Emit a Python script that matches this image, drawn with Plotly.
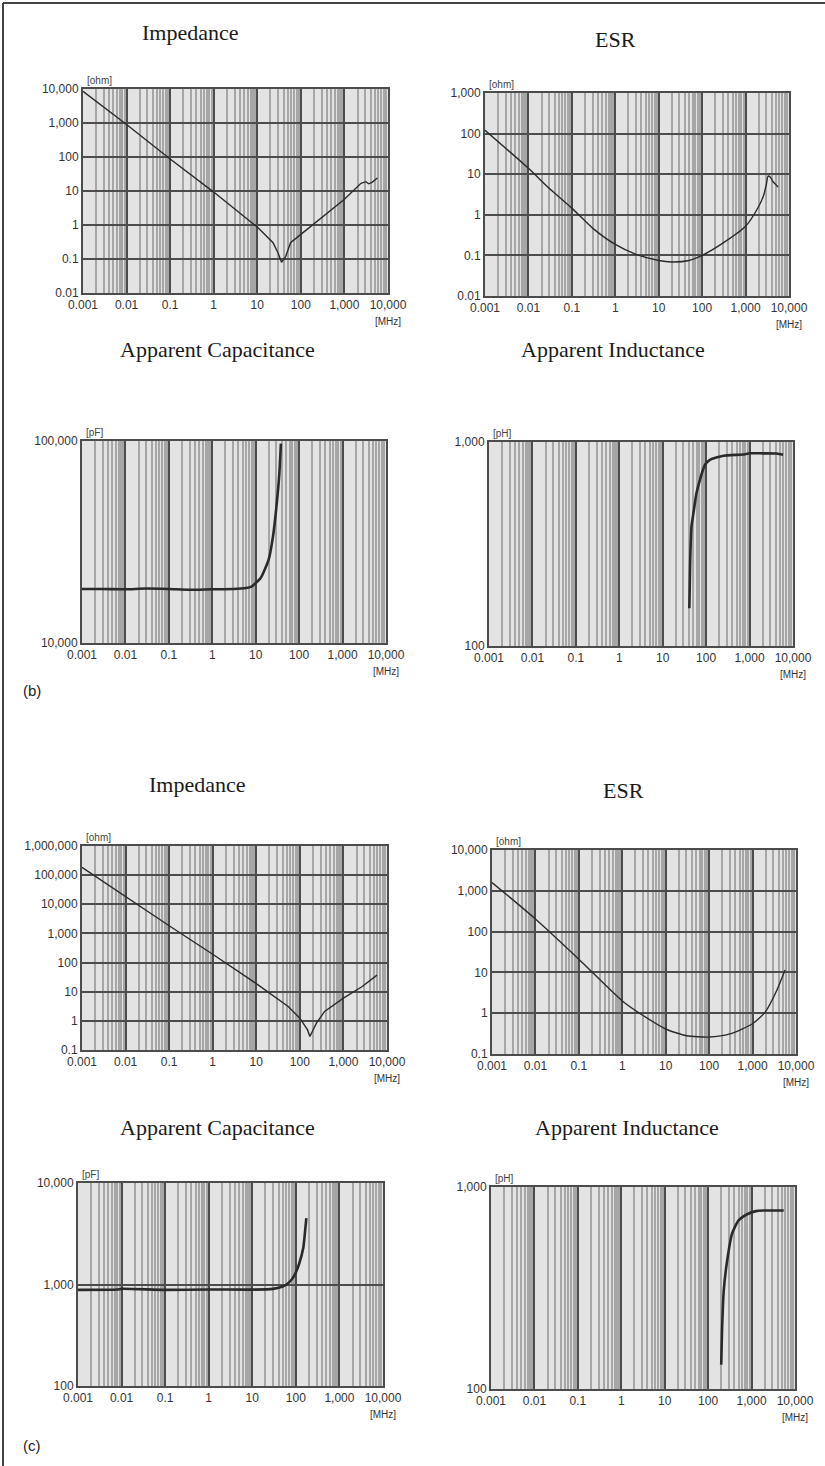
import math
import plotly.graph_objects as go

# ---------------- data ----------------
x_tickvals = [0.001, 0.01, 0.1, 1, 10, 100, 1000, 10000]
x_ticktext = ["0.001", "0.01", "0.1", "1", "10", "100", "1,000",
              "10,000<br><span style='font-size:10px'>[MHz]</span>"]

titles = ["Impedance", "ESR", "Apparent Capacitance", "Apparent Inductance",
          "Impedance", "ESR", "Apparent Capacitance", "Apparent Inductance"]
units = ["[ohm]", "[ohm]", "[pF]", "[pH]", "[ohm]", "[ohm]", "[pF]", "[pH]"]
panel_labels = ["(b)", "(c)"]

# (b) Impedance
freq_imp_b = [0.001, 0.01, 0.1, 1, 10, 23, 30, 36, 45, 58, 100, 270, 1000, 2400, 3100, 3600, 4300, 5700]
imp_b = [8500, 900, 87, 9.3, 0.87, 0.3, 0.15, 0.08, 0.12, 0.3, 0.53, 1.47, 5.7, 16.8, 18.8, 16.3, 18, 24]
imp_b_yticks = [0.01, 0.1, 1, 10, 100, 1000, 10000]
imp_b_ytext = ["0.01", "0.1", "1", "10", "100", "1,000", "10,000"]

# (b) ESR
freq_esr_b = [0.001, 0.01, 0.03, 0.1, 0.3, 1, 3, 10, 20, 50, 100, 300, 1000, 2000, 2600, 3000, 3300, 3700, 4300, 5000, 5600]
esr_b = [121, 14, 4.5, 1.46, 0.47, 0.186, 0.106, 0.075, 0.069, 0.075, 0.1, 0.2, 0.52, 1.6, 3.0, 5.5, 9.0, 8.5, 6.5, 5.5, 4.8]
esr_b_yticks = [0.01, 0.1, 1, 10, 100, 1000]
esr_b_ytext = ["0.01", "0.1", "1", "10", "100", "1,000"]

# (b) Apparent capacitance
freq_cap_b = [0.001, 0.003, 0.01, 0.03, 0.1, 0.3, 1, 3, 6, 8, 10, 13, 16, 20, 25, 30, 35, 38]
cap_b = [18500, 18500, 18450, 18600, 18500, 18350, 18450, 18500, 18700, 19000, 19800, 21000, 23000, 26000, 33700, 47300, 69000, 97000]
cap_b_yticks = [10000, 100000]
cap_b_ytext = ["10,000", "100,000"]

# (b) Apparent inductance
freq_ind_b = [41, 42, 43, 46, 51, 60, 72, 94, 122, 250, 700, 1000, 2000, 4200, 5900]
ind_b = [153, 200, 264, 385, 448, 562, 653, 775, 818, 857, 868, 880, 880, 878, 865]
ind_b_yticks = [100, 1000]
ind_b_ytext = ["100", "1,000"]

# (c) Impedance
freq_imp_c = [0.001, 0.01, 0.1, 1, 10, 54, 100, 150, 170, 240, 370, 1000, 2650, 5900]
imp_c = [185000, 18300, 1830, 193, 19, 3.1, 1.23, 0.49, 0.29, 0.83, 2.1, 6, 14.8, 37]
imp_c_yticks = [0.1, 1, 10, 100, 1000, 10000, 100000, 1000000]
imp_c_ytext = ["0.1", "1", "10", "100", "1,000", "10,000", "100,000", "1,000,000"]

# (c) ESR
freq_esr_c = [0.001, 0.01, 0.1, 1, 3, 10, 30, 100, 300, 1000, 1950, 3600, 5600]
esr_c = [1600, 204, 21, 2.0, 0.88, 0.41, 0.28, 0.26, 0.31, 0.55, 1.06, 3.6, 11.4]
esr_c_yticks = [0.1, 1, 10, 100, 1000, 10000]
esr_c_ytext = ["0.1", "1", "10", "100", "1,000", "10,000"]

# (c) Apparent capacitance
freq_cap_c = [0.001, 0.008, 0.01, 0.1, 1, 10, 30, 50, 70, 90, 119, 148, 160, 174]
cap_c = [886, 893, 906, 886, 893, 890, 906, 955, 1050, 1200, 1600, 2300, 3100, 4500]
cap_c_yticks = [100, 1000, 10000]
cap_c_ytext = ["100", "1,000", "10,000"]

# (c) Apparent inductance
freq_ind_c = [200, 209, 229, 275, 357, 507, 790, 1350, 2750, 5500]
ind_c = [132, 196, 309, 434, 589, 685, 733, 762, 765, 765]
ind_c_yticks = [100, 1000]
ind_c_ytext = ["100", "1,000"]

series = [
    (freq_imp_b, imp_b, imp_b_yticks, imp_b_ytext, 1.4, "linear"),
    (freq_esr_b, esr_b, esr_b_yticks, esr_b_ytext, 1.4, "spline"),
    (freq_cap_b, cap_b, cap_b_yticks, cap_b_ytext, 2.6, "spline"),
    (freq_ind_b, ind_b, ind_b_yticks, ind_b_ytext, 2.6, "spline"),
    (freq_imp_c, imp_c, imp_c_yticks, imp_c_ytext, 1.4, "linear"),
    (freq_esr_c, esr_c, esr_c_yticks, esr_c_ytext, 1.4, "spline"),
    (freq_cap_c, cap_c, cap_c_yticks, cap_c_ytext, 2.6, "spline"),
    (freq_ind_c, ind_c, ind_c_yticks, ind_c_ytext, 2.6, "spline"),
]

# ---------------- layout geometry (pixels) ----------------
W, H = 825, 1466
boxes = [  # left, right, top, bottom
    (83, 388, 89, 293),
    (485, 789, 93, 296),
    (82, 386, 441, 643),
    (489, 793, 442, 646),
    (82, 387, 846, 1050),
    (492, 796, 850, 1054),
    (78, 383, 1183, 1386),
    (491, 795, 1187, 1389),
]
title_pos = [(190, 32), (615, 39), (218, 350), (613, 350),
             (197, 785), (623, 790), (218, 1127), (627, 1127)]

def px(x):
    return x / W

def py(y):
    return 1 - y / H

fig = go.Figure()
layout = dict(
    width=W, height=H, autosize=False,
    margin=dict(l=0, r=0, t=0, b=0, pad=0, autoexpand=False),
    paper_bgcolor="white", plot_bgcolor="#e3e3e3",
    showlegend=False,
    font=dict(family="Liberation Sans, Arial, sans-serif", size=12, color="#333333"),
)
annotations = []
GRID_MAJOR = "#4c4c4c"
GRID_MINOR = "#a6a6a6"

for i, (fx, fy, yt, ytt, lw, shape) in enumerate(series):
    n = i + 1
    xa = "x" if n == 1 else f"x{n}"
    ya = "y" if n == 1 else f"y{n}"
    l, r, t, b = boxes[i]
    fig.add_trace(go.Scatter(x=fx, y=fy, mode="lines", xaxis=xa, yaxis=ya,
                             line=dict(color="#2a2a2a", width=lw, shape=shape, smoothing=0.6),
                             hoverinfo="skip"))
    ymin, ymax = min(yt), max(yt)
    layout[f"xaxis{'' if n == 1 else n}"] = dict(
        type="log", domain=[px(l), px(r)], anchor=ya, automargin=False,
        range=[math.log10(min(x_tickvals)), math.log10(max(x_tickvals))],
        tickmode="array", tickvals=x_tickvals, ticktext=x_ticktext,
        showgrid=True, gridcolor=GRID_MAJOR, gridwidth=2,
        minor=dict(dtick="D1", showgrid=True, gridcolor=GRID_MINOR, gridwidth=2),
        showline=True, mirror=True, linecolor=GRID_MAJOR, linewidth=2,
        ticks="", zeroline=False, fixedrange=True,
        tickfont=dict(size=12, color="#333333"),
    )
    layout[f"yaxis{'' if n == 1 else n}"] = dict(
        type="log", domain=[py(b), py(t)], anchor=xa, automargin=False,
        range=[math.log10(ymin), math.log10(ymax)],
        tickmode="array", tickvals=yt, ticktext=ytt,
        showgrid=True, gridcolor=GRID_MAJOR, gridwidth=2,
        showline=True, mirror=True, linecolor=GRID_MAJOR, linewidth=2,
        ticks="", zeroline=False, fixedrange=True,
        tickfont=dict(size=12, color="#333333"),
    )
    tx, ty = title_pos[i]
    annotations.append(dict(text=titles[i], x=px(tx), y=py(ty), xref="paper", yref="paper",
                            xanchor="center", yanchor="middle", showarrow=False,
                            font=dict(family="Liberation Serif, Times New Roman, serif", size=22, color="#1a1a1a")))
    annotations.append(dict(text=units[i], x=px(l + 2), y=py(t - 1), xref="paper", yref="paper",
                            xanchor="left", yanchor="bottom", showarrow=False,
                            font=dict(size=10, color="#444444")))

annotations.append(dict(text=panel_labels[0], x=px(21), y=py(690), xref="paper", yref="paper",
                        xanchor="left", yanchor="middle", showarrow=False,
                        font=dict(size=15, color="#222222")))
annotations.append(dict(text=panel_labels[1], x=px(21), y=py(1445), xref="paper", yref="paper",
                        xanchor="left", yanchor="middle", showarrow=False,
                        font=dict(size=15, color="#222222")))
layout["annotations"] = annotations
layout["shapes"] = [
    dict(type="line", xref="paper", yref="paper", x0=px(3), x1=1, y0=py(3), y1=py(3),
         line=dict(color="#444444", width=2)),
    dict(type="line", xref="paper", yref="paper", x0=px(3), x1=px(3), y0=py(3), y1=0,
         line=dict(color="#444444", width=2)),
]
fig.update_layout(**layout)
fig.write_html("out.html", config={"displayModeBar": False},
               post_script="document.body.style.margin='0';document.body.style.padding='0';")
